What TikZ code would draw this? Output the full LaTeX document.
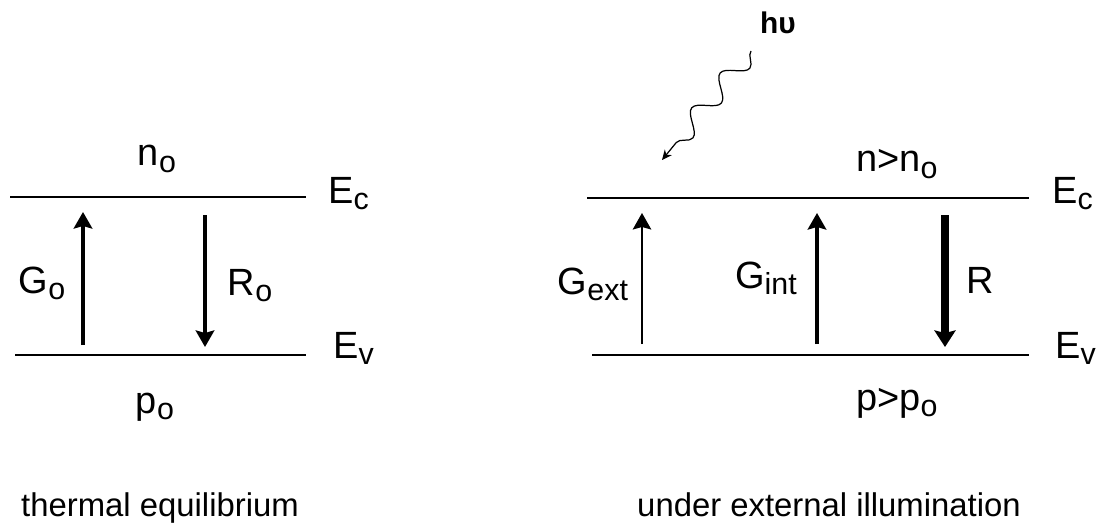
\documentclass[tikz,border=0pt]{standalone}
\usepackage{fontspec}
\setmainfont{Liberation Sans}
\usetikzlibrary{arrows.meta,decorations.pathmorphing}
\newcommand{\lowidx}[1]{\raisebox{-0.13cm}{\fontsize{17.3}{18}\selectfont #1}}

\begin{document}
\begin{tikzpicture}[x=0.02cm, y=-0.02cm,
    lbl/.style={inner sep=0pt, anchor=base, font=\fontsize{21.6}{26}\selectfont},
    lvl/.style={inner sep=0pt, anchor=base west, font=\fontsize{21.6}{26}\selectfont},
    caption/.style={inner sep=0pt, anchor=base, font=\fontsize{18.7}{22}\selectfont},
    band/.style={line width=0.9pt},
    tipbig/.style={-{Stealth[length=0.33cm, width=0.37cm, inset=0.05cm]}},
    thinarrow/.style={tipbig, line width=1pt},
    midarrow/.style={tipbig, line width=2pt},
    fatarrow/.style={-{Stealth[length=0.33cm, width=0.42cm, inset=0.05cm]}, line width=4.6pt},
    photon/.style={line width=0.7pt, -{Stealth[length=0.2cm, width=0.18cm]},
      decorate, decoration={snake, segment length=0.9cm, amplitude=0.2cm, post length=0.22cm}}]
  \useasboundingbox (0,0) rectangle (1096,527);

  % thermal equilibrium
  \coordinate (ecLa) at (10,197);
  \coordinate (ecLb) at (306,197);
  \coordinate (evLa) at (15,355);
  \coordinate (evLb) at (306,355);
  \draw[band] (ecLa) -- (ecLb);
  \draw[band] (evLa) -- (evLb);

  \coordinate (gzeroS) at (83,345);
  \coordinate (gzeroE) at (83,212);
  \coordinate (rzeroS) at (205,215);
  \coordinate (rzeroE) at (205,347);
  \draw[midarrow] (gzeroS) -- (gzeroE);
  \draw[midarrow] (rzeroS) -- (rzeroE);

  \node (nzero) [lbl] at (157,166) {n\lowidx{o}};
  \node (pzero) [lbl] at (155,413) {p\lowidx{o}};
  \node (gzero) [lbl] at (42,293) {G\lowidx{o}};
  \node (rzero) [lbl] at (250,295) {R\lowidx{o}};
  \node (ecL) [lvl] at (328,203) {E\lowidx{c}};
  \node (evL) [lvl] at (333,358) {E\lowidx{v}};
  \node (capL) [caption] at (160,516) {thermal equilibrium};

  % under external illumination
  \coordinate (ecRa) at (587,198);
  \coordinate (ecRb) at (1029,198);
  \coordinate (evRa) at (592,355);
  \coordinate (evRb) at (1029,355);
  \draw[band] (ecRa) -- (ecRb);
  \draw[band] (evRa) -- (evRb);

  \coordinate (gextS) at (642,344);
  \coordinate (gextE) at (642,213);
  \coordinate (gintS) at (817,344);
  \coordinate (gintE) at (817,213);
  \coordinate (recS) at (945,215);
  \coordinate (recE) at (945,347);
  \draw[thinarrow] (gextS) -- (gextE);
  \draw[midarrow] (gintS) -- (gintE);
  \draw[fatarrow] (recS) -- (recE);

  \node (nexc) [lbl] at (897,172) {n>n\lowidx{o}};
  \node (pexc) [lbl] at (897,410) {p>p\lowidx{o}};
  \node (gext) [lbl] at (593,294) {G\lowidx{ext}};
  \node (gint) [lbl] at (766,288) {G\lowidx{int}};
  \node (rec) [lbl] at (980,293) {R};
  \node (ecR) [lvl] at (1052,203) {E\lowidx{c}};
  \node (evR) [lvl] at (1055,358) {E\lowidx{v}};
  \node (capR) [caption] at (829,516) {under external illumination};

  % incoming light
  \node (hnu) [inner sep=0pt, anchor=base, font=\fontsize{17}{20}\selectfont\bfseries] at (778,34) {hυ};
  \coordinate (lightS) at (751,51);
  \coordinate (lightE) at (662,160);
  \draw[photon] (lightS) -- (lightE);
\end{tikzpicture}
\end{document}
